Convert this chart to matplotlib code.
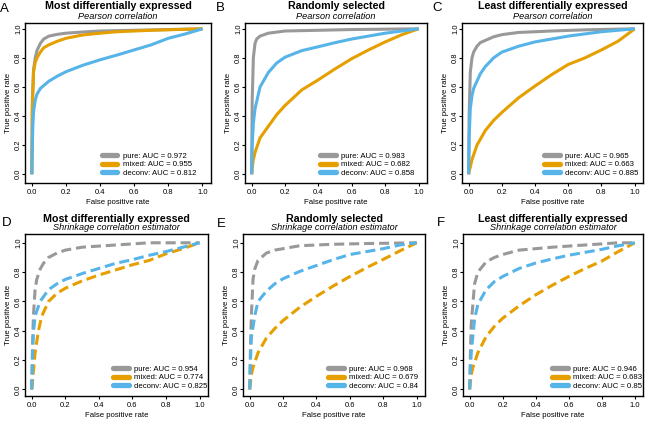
import matplotlib
matplotlib.use("Agg")
import matplotlib.pyplot as plt
from matplotlib.lines import Line2D

plt.rcParams['font.family'] = ['Liberation Sans', 'DejaVu Sans']

# ---------------- data ----------------
panel_letters = ["A", "B", "C", "D", "E", "F"]
panel_titles = ["Most differentially expressed", "Randomly selected", "Least differentially expressed"] * 2
panel_subtitles = ["Pearson correlation"] * 3 + ["Shrinkage correlation estimator"] * 3
series_names = ["pure", "mixed", "deconv"]

auc_values = [
    [0.972, 0.955, 0.812],
    [0.983, 0.682, 0.858],
    [0.965, 0.663, 0.885],
    [0.954, 0.774, 0.825],
    [0.968, 0.679, 0.84],
    [0.946, 0.683, 0.85],
]

# ROC curves: (FPR list, TPR list) per panel per series
roc_A_pure = ([0, 0.003, 0.01, 0.02, 0.03, 0.05, 0.07, 0.1, 0.15, 0.2, 0.3, 0.4, 0.6, 0.8, 1.0],
              [0, 0.5, 0.72, 0.8, 0.85, 0.9, 0.93, 0.95, 0.962, 0.97, 0.978, 0.985, 0.99, 0.995, 1.0])
roc_A_mixed = ([0, 0.003, 0.01, 0.02, 0.03, 0.05, 0.07, 0.1, 0.15, 0.2, 0.3, 0.4, 0.5, 0.7, 0.85, 1.0],
               [0, 0.45, 0.7, 0.77, 0.8, 0.84, 0.87, 0.89, 0.915, 0.935, 0.958, 0.97, 0.98, 0.99, 0.995, 1.0])
roc_A_deconv = ([0, 0.003, 0.006, 0.01, 0.02, 0.03, 0.05, 0.1, 0.15, 0.2, 0.3, 0.4, 0.5, 0.6, 0.7, 0.8, 0.9, 1.0],
                [0, 0.2, 0.33, 0.43, 0.51, 0.55, 0.59, 0.64, 0.675, 0.705, 0.75, 0.787, 0.82, 0.855, 0.89, 0.935, 0.965, 1.0])

roc_B_pure = ([0, 0.003, 0.01, 0.02, 0.03, 0.05, 0.1, 0.2, 0.4, 0.6, 1.0],
              [0, 0.5, 0.8, 0.9, 0.93, 0.95, 0.97, 0.985, 0.99, 0.995, 1.0])
roc_B_mixed = ([0, 0.005, 0.01, 0.02, 0.05, 0.1, 0.15, 0.2, 0.3, 0.4, 0.5, 0.6, 0.7, 0.8, 0.9, 1.0],
               [0, 0.06, 0.1, 0.15, 0.25, 0.33, 0.41, 0.473, 0.58, 0.65, 0.725, 0.795, 0.855, 0.91, 0.96, 1.0])
roc_B_deconv = ([0, 0.003, 0.01, 0.02, 0.05, 0.1, 0.15, 0.2, 0.3, 0.4, 0.5, 0.6, 0.7, 0.8, 0.9, 1.0],
                [0, 0.2, 0.35, 0.45, 0.6, 0.7, 0.765, 0.805, 0.85, 0.877, 0.905, 0.93, 0.95, 0.97, 0.985, 1.0])

roc_C_pure = ([0, 0.003, 0.01, 0.02, 0.03, 0.05, 0.07, 0.1, 0.15, 0.2, 0.3, 0.5, 0.7, 1.0],
              [0, 0.4, 0.7, 0.8, 0.84, 0.88, 0.905, 0.92, 0.945, 0.96, 0.975, 0.985, 0.993, 1.0])
roc_C_mixed = ([0, 0.005, 0.01, 0.02, 0.05, 0.1, 0.15, 0.2, 0.3, 0.4, 0.5, 0.6, 0.7, 0.8, 0.9, 1.0],
               [0, 0.03, 0.05, 0.1, 0.2, 0.3, 0.37, 0.425, 0.525, 0.607, 0.685, 0.755, 0.8, 0.855, 0.915, 1.0])
roc_C_deconv = ([0, 0.003, 0.01, 0.02, 0.03, 0.05, 0.07, 0.1, 0.15, 0.2, 0.3, 0.4, 0.5, 0.6, 0.8, 1.0],
                [0, 0.25, 0.45, 0.54, 0.59, 0.64, 0.69, 0.74, 0.8, 0.84, 0.88, 0.91, 0.93, 0.95, 0.98, 1.0])

roc_D_pure = ([0, 0.005, 0.01, 0.02, 0.03, 0.05, 0.07, 0.1, 0.15, 0.2, 0.3, 0.5, 0.7, 1.0],
              [0, 0.3, 0.5, 0.68, 0.75, 0.82, 0.86, 0.9, 0.93, 0.95, 0.97, 0.985, 1.0, 1.0])
roc_D_mixed = ([0, 0.01, 0.02, 0.04, 0.06, 0.1, 0.15, 0.2, 0.3, 0.4, 0.5, 0.6, 0.7, 0.8, 0.9, 1.0],
               [0, 0.12, 0.25, 0.4, 0.5, 0.6, 0.655, 0.69, 0.74, 0.78, 0.815, 0.85, 0.88, 0.925, 0.96, 1.0])
roc_D_deconv = ([0, 0.005, 0.01, 0.02, 0.05, 0.1, 0.15, 0.2, 0.3, 0.4, 0.5, 0.6, 0.7, 0.8, 0.9, 1.0],
                [0, 0.25, 0.38, 0.5, 0.6, 0.68, 0.72, 0.75, 0.79, 0.825, 0.86, 0.885, 0.915, 0.94, 0.97, 1.0])

roc_E_pure = ([0, 0.005, 0.01, 0.02, 0.03, 0.05, 0.1, 0.15, 0.2, 0.3, 0.5, 0.7, 1.0],
              [0, 0.3, 0.5, 0.75, 0.82, 0.88, 0.93, 0.95, 0.96, 0.98, 0.99, 0.995, 1.0])
roc_E_mixed = ([0, 0.005, 0.01, 0.02, 0.05, 0.1, 0.15, 0.2, 0.3, 0.4, 0.5, 0.6, 0.7, 0.8, 0.9, 1.0],
               [0, 0.05, 0.1, 0.15, 0.25, 0.35, 0.415, 0.47, 0.56, 0.635, 0.705, 0.77, 0.83, 0.887, 0.945, 1.0])
roc_E_deconv = ([0, 0.005, 0.01, 0.03, 0.05, 0.1, 0.15, 0.2, 0.3, 0.4, 0.5, 0.6, 0.7, 0.8, 0.9, 1.0],
                [0, 0.2, 0.35, 0.5, 0.6, 0.67, 0.72, 0.755, 0.805, 0.845, 0.885, 0.92, 0.94, 0.96, 0.985, 1.0])

roc_F_pure = ([0, 0.005, 0.01, 0.03, 0.05, 0.1, 0.15, 0.2, 0.3, 0.5, 0.7, 0.9, 1.0],
              [0, 0.25, 0.45, 0.72, 0.8, 0.87, 0.9, 0.92, 0.95, 0.97, 0.985, 1.0, 1.0])
roc_F_mixed = ([0, 0.005, 0.01, 0.02, 0.05, 0.1, 0.15, 0.2, 0.3, 0.4, 0.5, 0.6, 0.7, 0.8, 0.9, 1.0],
               [0, 0.05, 0.1, 0.15, 0.25, 0.36, 0.43, 0.485, 0.57, 0.645, 0.71, 0.77, 0.825, 0.875, 0.94, 1.0])
roc_F_deconv = ([0, 0.005, 0.01, 0.03, 0.05, 0.1, 0.15, 0.2, 0.3, 0.4, 0.5, 0.6, 0.7, 0.8, 0.9, 1.0],
                [0, 0.15, 0.25, 0.48, 0.58, 0.68, 0.735, 0.77, 0.825, 0.862, 0.89, 0.915, 0.935, 0.955, 0.98, 1.0])

rocs = [
    [roc_A_pure, roc_A_mixed, roc_A_deconv],
    [roc_B_pure, roc_B_mixed, roc_B_deconv],
    [roc_C_pure, roc_C_mixed, roc_C_deconv],
    [roc_D_pure, roc_D_mixed, roc_D_deconv],
    [roc_E_pure, roc_E_mixed, roc_E_deconv],
    [roc_F_pure, roc_F_mixed, roc_F_deconv],
]

colors = ["#999999", "#E69F00", "#56B4E9"]
ticks = [0.0, 0.2, 0.4, 0.6, 0.8, 1.0]
tick_labels = ["0.0", "0.2", "0.4", "0.6", "0.8", "1.0"]

# ---------------- layout (pixels) ----------------
W, H = 650, 422
boxes = [  # left, right, top, bottom in px
    (25, 211, 23, 183), (245, 427, 23, 183), (462, 643, 23, 183),
    (25, 208, 234, 396), (243, 425, 234, 396), (463, 643, 234, 396),
]
legend_right_px = [196, 414, 638, 207, 418, 642]
letter_pos_px = [(0, 12), (216, 11), (432, 11), (2, 226), (217, 227), (437, 226)]
title_off_px = [14.4, 14.4, 14.4, 12.0, 12.0, 12.0]
subtitle_off_px = [4.4, 4.4, 4.4, 3.6, 3.6, 3.6]
ylims = [(-0.06, 1.04)] * 3 + [(-0.045, 1.06)] * 3

fig = plt.figure(figsize=(W / 100, H / 100), dpi=100)
fig.patch.set_facecolor("white")

for i in range(6):
    l, r, t, b = boxes[i]
    ax = fig.add_axes([l / W, 1 - b / H, (r - l) / W, (b - t) / H])
    dashed = i >= 3
    for j in range(3):
        fx, ty = rocs[i][j]
        if dashed:
            ax.plot(fx, ty, color=colors[j], lw=2.2, dashes=(3.3, 1.6),
                    dash_capstyle="butt")
        else:
            ax.plot(fx, ty, color=colors[j], lw=2.2, solid_capstyle="butt")
    ax.set_xlim(-0.04, 1.05)
    ax.set_ylim(*ylims[i])
    ax.set_xticks(ticks)
    ax.set_xticklabels(tick_labels)
    ax.set_yticks(ticks)
    ax.set_yticklabels(tick_labels, rotation=90, va="center")
    ax.tick_params(labelsize=5.5, length=2.2, width=0.8)
    ax.tick_params(axis="x", pad=2.0)
    ax.tick_params(axis="y", pad=-0.2)
    for s in ax.spines.values():
        s.set_linewidth(1.0)
    ax.set_xlabel("False positive rate", fontsize=5.6, labelpad=2.5)
    ax.set_ylabel("True positive rate", fontsize=5.6, labelpad=2.5)

    handles = [Line2D([0], [0], color=colors[j], lw=3.8, solid_capstyle="round") for j in range(3)]
    labels = [f"{series_names[j]}: AUC = {auc_values[i][j]}" for j in range(3)]
    ax.legend(handles, labels, loc="lower right", frameon=False, fontsize=5.6,
              handlelength=2.0, handletextpad=0.65, labelspacing=0.15,
              borderpad=0, borderaxespad=0,
              bbox_to_anchor=((legend_right_px[i] - l) / (r - l), 6 / (b - t)))

    cx = (l + r) / 2 / W
    fig.text(cx, 1 - (t - title_off_px[i]) / H, panel_titles[i], ha="center", va="baseline",
             fontsize=7.7, fontweight="bold")
    fig.text(cx, 1 - (t - subtitle_off_px[i]) / H, panel_subtitles[i], ha="center", va="baseline",
             fontsize=6.6, style="italic")
    lx, ly = letter_pos_px[i]
    fig.text(lx / W, 1 - ly / H, panel_letters[i], ha="left", va="baseline", fontsize=9.5)

fig.savefig("out.png", dpi=100)
